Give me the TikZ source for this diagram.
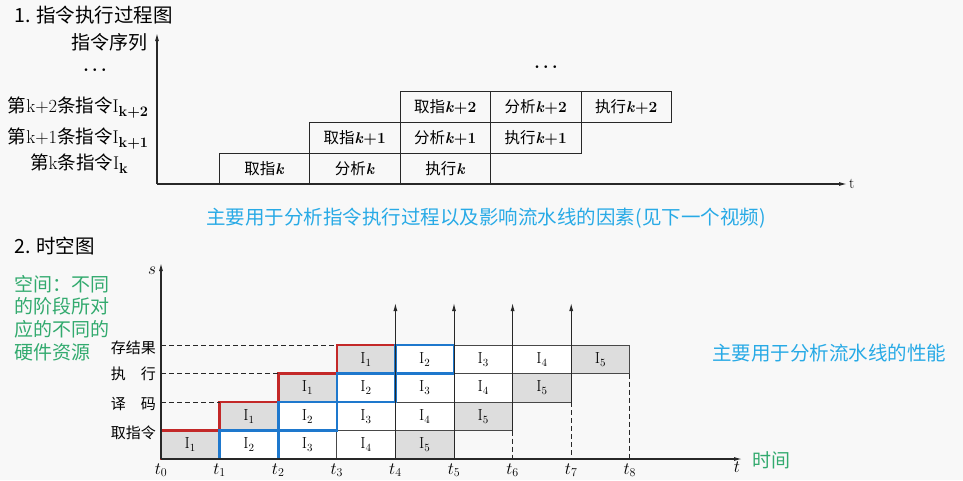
\documentclass[tikz,border=0pt]{standalone}
\usepackage{fontspec}
\usetikzlibrary{arrows.meta}
\newfontfamily\cjk{Noto Sans CJK SC}
\definecolor{bgc}{RGB}{248,248,248}
\definecolor{infoblue}{RGB}{40,170,230}
\definecolor{notegreen}{RGB}{50,170,110}
\definecolor{cellgray}{RGB}{221,221,221}
\definecolor{redline}{RGB}{195,40,40}
\definecolor{blueline}{RGB}{30,120,205}
\definecolor{ink}{RGB}{40,40,40}
\newcommand{\fsz}[1]{\fontsize{#1}{#1}\selectfont}
\newcommand{\subsc}[1]{\raisebox{-4pt}{\fsz{14.5}\textbf{#1}}}
\begin{document}
\begin{tikzpicture}[x=1pt,y=-1pt,
  axisline/.style={draw=ink,line width=1.1pt,-{Latex[length=8pt,width=4pt]}},
  topcell/.style={draw=ink,line width=0.9pt,minimum width=90.5pt,minimum height=31pt,inner sep=0pt,outer sep=0pt,font=\fsz{15.5}},
  cell/.style={draw=ink!85,line width=0.8pt,minimum width=58.6pt,minimum height=28.5pt,inner sep=0pt,outer sep=0pt,font=\fsz{16}},
  heading/.style={font=\cjk\fsz{19.5},inner sep=0pt,anchor=west},
  seqlabel/.style={font=\fsz{18.5},inner sep=0pt,anchor=base},
  stagelabel/.style={font=\cjk\fsz{15},inner sep=0pt,anchor=east},
  tlabel/.style={font=\fsz{17},inner sep=0pt},
  redbox/.style={draw=redline,line width=2.6pt},
  bluebox/.style={draw=blueline,line width=2.6pt},
  dashline/.style={draw=ink,line width=0.9pt,dash pattern=on 5pt off 3pt},
  uparrow/.style={draw=ink,line width=1pt,-{Latex[length=8pt,width=4pt]}},
  dots/.style={font=\fsz{17}\boldmath,inner sep=0pt},
]
\fill[bgc] (0,0) rectangle (963,480);
\useasboundingbox (0,0) rectangle (963,480);

% ---------- part 1 ----------
\node[heading] (title1) at (14,15) {1. 指令执行过程图};
\coordinate (O1) at (157,184);
\coordinate (Y1) at (157,33);
\coordinate (X1) at (847,184);
\draw[axisline] (O1) -- (Y1);
\draw[axisline] (O1) -- (X1);
\node[font=\fsz{15},inner sep=0pt,anchor=west] (tt) at (849,184) {t};
\node[font=\cjk\fsz{19},inner sep=0pt,anchor=east] (seq) at (148,42) {指令序列};
\node[dots] (dots1) at (95,70) {$\cdots$};
\node[dots] (dots2) at (546,67) {$\cdots$};

\node[seqlabel] (lk2) at (78,112) {{\cjk 第}k+2{\cjk 条指令}I\subsc{k+2}};
\node[seqlabel] (lk1) at (78,143) {{\cjk 第}k+1{\cjk 条指令}I\subsc{k+1}};
\node[seqlabel] (lk0) at (79,169) {{\cjk 第}k{\cjk 条指令}I\subsc{k}};

\node[topcell] (f0) at (264.25,168.5) {{\cjk 取指}\textbf{\textit{k}}};
\node[topcell] (a0) at (354.75,168.5) {{\cjk 分析}\textbf{\textit{k}}};
\node[topcell] (e0) at (445.25,168.5) {{\cjk 执行}\textbf{\textit{k}}};
\node[topcell] (f1) at (354.75,137.5) {{\cjk 取指}\textbf{\textit{k}+1}};
\node[topcell] (a1) at (445.25,137.5) {{\cjk 分析}\textbf{\textit{k}+1}};
\node[topcell] (e1) at (535.75,137.5) {{\cjk 执行}\textbf{\textit{k}+1}};
\node[topcell] (f2) at (445.25,106.5) {{\cjk 取指}\textbf{\textit{k}+2}};
\node[topcell] (a2) at (535.75,106.5) {{\cjk 分析}\textbf{\textit{k}+2}};
\node[topcell] (e2) at (626.25,106.5) {{\cjk 执行}\textbf{\textit{k}+2}};

\node[font=\cjk\fsz{19.5},text=infoblue,inner sep=0pt] (usage) at (486,218) {主要用于分析指令执行过程以及影响流水线的因素(见下一个视频)};

% ---------- part 2 ----------
\node[heading] (title2) at (14,246) {2. 时空图};
\node[font=\cjk\fontsize{19}{22.7}\selectfont,text=notegreen,align=left,anchor=north west,inner sep=0pt] (note) at (14,275) {空间：不同\\的阶段所对\\应的不同的\\硬件资源};

\foreach \r in {0,...,3}{
  \foreach \i/\f in {1/cellgray,2/white,3/white,4/white,5/cellgray}{
    \pgfmathsetmacro\xc{161+58.6*(\i-1+\r)+29.3}
    \pgfmathsetmacro\yc{459-28.5*\r-14.25}
    \node[cell,fill=\f] (c\r\i) at (\xc,\yc) {I$_{\i}$};
  }
}

\draw[redbox] (c01.south west) -- (c01.north west) -- (c11.south west) -- (c11.north west)
  -- (c21.south west) -- (c21.north west) -- (c31.south west) -- (c31.north west)
  -- (c31.north east) -- (c31.south east) -- (c21.north east) -- (c21.south east)
  -- (c11.north east) -- (c11.south east) -- (c01.north east) -- (c01.south east) -- cycle;
\draw[bluebox] (c02.south west) -- (c02.north west) -- (c12.south west) -- (c12.north west)
  -- (c22.south west) -- (c22.north west) -- (c32.south west) -- (c32.north west)
  -- (c32.north east) -- (c32.south east) -- (c22.north east) -- (c22.south east)
  -- (c12.north east) -- (c12.south east) -- (c02.north east) -- (c02.south east) -- cycle;

\coordinate (O2) at (161,459);
\coordinate (S2) at (161,263);
\coordinate (X2) at (742,459);
\draw[axisline] (O2) -- (S2);
\draw[axisline] (O2) -- (X2);
\node[tlabel] (slab) at (152,271) {$s$};
\node[tlabel] (tlab) at (737,467) {$t$};
\node[font=\cjk\fsz{19},text=notegreen,anchor=west,inner sep=0pt] (shijian) at (752,460) {时间};

\foreach \k in {0,...,8}{
  \node[tlabel] (tl\k) at ({161+58.6*\k},470) {$t_{\k}$};
}

\node[stagelabel] (st3) at (156,348) {存结果};
\node[stagelabel] (st2) at (156,374) {执　行};
\node[stagelabel] (st1) at (156,404) {译　码};
\node[stagelabel] (st0) at (156,433) {取指令};

\coordinate (d3) at (161,345);
\coordinate (d2) at (161,373.5);
\coordinate (d1) at (161,402);
\draw[dashline] (d3) -- (c31.north west);
\draw[dashline] (d2) -- (c21.north west);
\draw[dashline] (d1) -- (c11.north west);

\coordinate (T4) at ({161+58.6*4},459);
\coordinate (T5) at ({161+58.6*5},459);
\coordinate (T6) at ({161+58.6*6},459);
\coordinate (T7) at ({161+58.6*7},459);
\coordinate (T8) at ({161+58.6*8},459);
\coordinate (A4) at ({161+58.6*4},303);
\coordinate (A5) at ({161+58.6*5},303);
\coordinate (A6) at ({161+58.6*6},303);
\coordinate (A7) at ({161+58.6*7},303);
\draw[dashline] (c15.south east) -- (T6);
\draw[dashline] (c25.south east) -- (T7);
\draw[dashline] (c35.south east) -- (T8);
\draw[uparrow] (T4) -- (A4);
\draw[uparrow] (T5) -- (A5);
\draw[uparrow] (c15.south east) -- (A6);
\draw[uparrow] (c25.south east) -- (A7);

\node[font=\cjk\fsz{19.5},text=infoblue,anchor=west,inner sep=0pt] (perf) at (712,353) {主要用于分析流水线的性能};
\end{tikzpicture}
\end{document}
